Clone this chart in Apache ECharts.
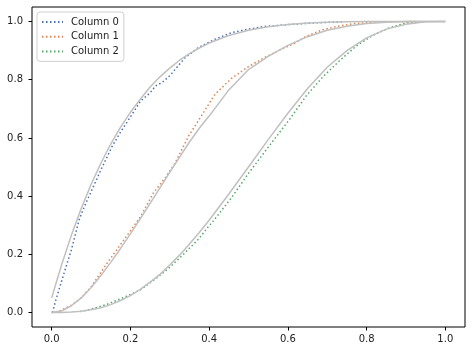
<!DOCTYPE html>
<html>
<head>
<meta charset="utf-8">
<script src="https://cdn.jsdelivr.net/npm/echarts@6.0.0/dist/echarts.min.js"></script>
<style>
  html, body { margin: 0; padding: 0; background: #fff; }
  #chart { width: 472px; height: 352px; }
</style>
</head>
<body>
<div id="chart"></div>
<script>
const col0X = [0.002, 0.01, 0.02, 0.036, 0.05, 0.07, 0.085, 0.099, 0.125, 0.154, 0.175, 0.196, 0.226, 0.25, 0.264, 0.28, 0.301, 0.314, 0.339, 0.373, 0.415, 0.457, 0.5, 0.54, 0.617, 0.68, 0.742];
const col0Y = [0.0, 0.04, 0.085, 0.155, 0.215, 0.32, 0.37, 0.412, 0.49, 0.572, 0.62, 0.664, 0.727, 0.755, 0.779, 0.79, 0.815, 0.836, 0.876, 0.911, 0.939, 0.962, 0.974, 0.983, 0.991, 0.996, 1.0];

const col1X = [0.0, 0.02, 0.05, 0.075, 0.1, 0.141, 0.188, 0.226, 0.259, 0.289, 0.314, 0.348, 0.373, 0.415, 0.457, 0.5, 0.54, 0.584, 0.617, 0.647, 0.689, 0.731, 0.77, 0.815, 0.86, 0.925];
const col1Y = [0.0, 0.005, 0.025, 0.05, 0.088, 0.17, 0.258, 0.33, 0.412, 0.464, 0.515, 0.607, 0.66, 0.75, 0.805, 0.845, 0.876, 0.905, 0.925, 0.95, 0.972, 0.985, 0.993, 0.997, 0.999, 1.0];

const col2X = [0.072, 0.099, 0.141, 0.184, 0.226, 0.268, 0.3, 0.331, 0.373, 0.398, 0.411, 0.457, 0.5, 0.54, 0.584, 0.605, 0.647, 0.689, 0.731, 0.773, 0.815, 0.857, 0.9, 0.95];
const col2Y = [0.003, 0.011, 0.028, 0.052, 0.078, 0.12, 0.155, 0.195, 0.252, 0.295, 0.315, 0.395, 0.478, 0.55, 0.628, 0.665, 0.745, 0.81, 0.865, 0.915, 0.952, 0.978, 0.995, 1.0];

// smooth grey reference curves
const fitX = [0, 0.025, 0.05, 0.075, 0.1, 0.125, 0.15, 0.175, 0.2, 0.225, 0.25, 0.275, 0.3, 0.325, 0.35, 0.375, 0.4, 0.45, 0.5, 0.55, 0.6, 0.65, 0.7, 0.75, 0.8, 0.85, 0.9, 0.95, 1.0];
const fit0 = [0.05, 0.163, 0.265, 0.357, 0.44, 0.513, 0.579, 0.637, 0.688, 0.733, 0.775, 0.81, 0.84, 0.867, 0.89, 0.909, 0.926, 0.952, 0.97, 0.982, 0.99, 0.995, 0.998, 0.999, 1, 1, 1, 1, 1];
const fit1 = [0, 0.005, 0.023, 0.05, 0.085, 0.127, 0.172, 0.22, 0.27, 0.322, 0.375, 0.428, 0.482, 0.534, 0.586, 0.633, 0.675, 0.765, 0.835, 0.88, 0.918, 0.948, 0.97, 0.984, 0.993, 0.998, 1, 1, 1];
const fit2 = [0, 0.0002, 0.0012, 0.004, 0.009, 0.016, 0.027, 0.041, 0.058, 0.079, 0.104, 0.131, 0.163, 0.197, 0.235, 0.275, 0.317, 0.407, 0.5, 0.594, 0.685, 0.77, 0.843, 0.9, 0.944, 0.974, 0.991, 0.999, 1];

const names = ["Column 0", "Column 1", "Column 2"];
const colors = ["#4c72b0", "#dd8452", "#55a868"];
const tickValues = [0, 0.2, 0.4, 0.6, 0.8, 1.0];

const pairs = (xs, ys) => xs.map((x, i) => [x, ys[i]]);

const chart = echarts.init(document.getElementById("chart"));

const dotted = (name, xs, ys, color) => ({
  name: name,
  type: "line",
  data: pairs(xs, ys),
  symbol: "none",
  lineStyle: { color: color, width: 1.5, type: [1.5, 2.5] },
  itemStyle: { color: color },
  z: 2,
  animation: false,
});

const grey = (ys) => ({
  type: "line",
  data: pairs(fitX, ys),
  symbol: "none",
  lineStyle: { color: "#c0c0c0", width: 1.5 },
  z: 3,
  silent: true,
  animation: false,
});

const axisCommon = {
  type: "value",
  min: -0.05,
  max: 1.05,
  splitLine: { show: false },
  axisLine: { show: false, onZero: false },
  axisTick: {
    show: true,
    inside: false,
    length: 3.5,
    customValues: tickValues,
    lineStyle: { color: "#000", width: 1 },
  },
  axisLabel: {
    customValues: tickValues,
    formatter: (v) => v.toFixed(1),
    fontFamily: "DejaVu Sans",
    fontSize: 10,
    color: "#222",
  },
};

chart.setOption({
  animation: false,
  grid: {
    left: 32,
    right: 7,
    top: 7,
    bottom: 25,
    show: true,
    borderColor: "#000",
    borderWidth: 1,
    backgroundColor: "#fff",
  },
  xAxis: { ...axisCommon, axisLabel: { ...axisCommon.axisLabel, margin: 7 } },
  yAxis: { ...axisCommon, axisLabel: { ...axisCommon.axisLabel, margin: 9 } },
  legend: {
    data: names,
    orient: "vertical",
    left: 37,
    top: 12,
    itemWidth: 21,
    itemHeight: 8,
    itemGap: 4.7,
    padding: [5, 5, 5, 4],
    backgroundColor: "#fff",
    borderColor: "#d0d0d0",
    borderWidth: 1,
    borderRadius: 3,
    itemStyle: { opacity: 0 },
    textStyle: {
      fontFamily: "DejaVu Sans",
      fontSize: 10,
      color: "#222",
      padding: [0, 0, 0, 3],
    },
  },
  series: [
    dotted(names[0], col0X, col0Y, colors[0]),
    dotted(names[1], col1X, col1Y, colors[1]),
    dotted(names[2], col2X, col2Y, colors[2]),
    grey(fit0),
    grey(fit1),
    grey(fit2),
  ],
});
</script>
</body>
</html>
